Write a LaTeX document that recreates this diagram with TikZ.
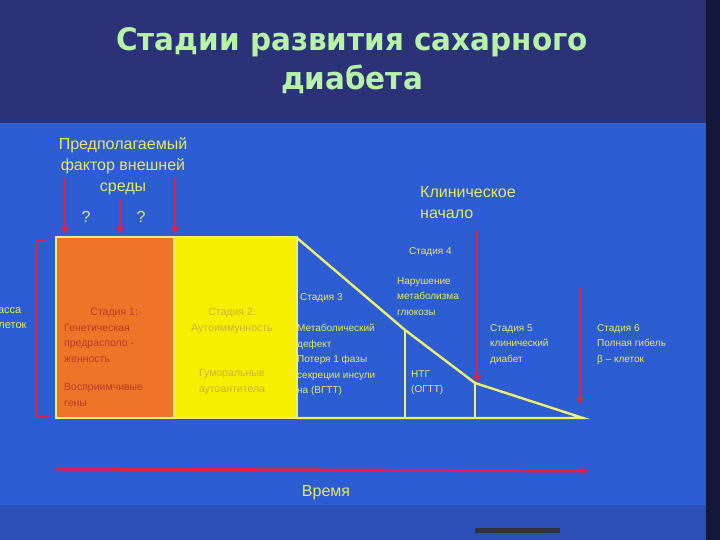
\documentclass[tikz,border=0pt]{standalone}
\usepackage{fontspec}
\setmainfont{Liberation Sans}
\newfontfamily\titlefont{DejaVu Sans}
\usetikzlibrary{arrows.meta}
\definecolor{navy}{HTML}{2C3277}
\definecolor{slideblue}{HTML}{2C5DD2}
\definecolor{darkedge}{HTML}{14163A}
\definecolor{lowblue}{HTML}{2A4FB8}
\definecolor{orangefill}{HTML}{EE7428}
\definecolor{orangetext}{HTML}{B83C22}
\definecolor{yellowfill}{HTML}{F6F000}
\definecolor{yellowtext}{HTML}{C6B43A}
\definecolor{paleyellow}{HTML}{EEF070}
\definecolor{labelyellow}{HTML}{E8EC5A}
\definecolor{titlegreen}{HTML}{B6F2A8}
\definecolor{arrowred}{HTML}{E0204A}
\tikzset{
  redarrow/.style={draw=arrowred, line width=2.6pt, -{Triangle[length=7pt,width=8pt]}},
  chartline/.style={draw=paleyellow, line width=2.4pt},
  lbl/.style={text=labelyellow, font=\fontsize{16}{21}\selectfont, inner sep=0pt, align=left},
  small/.style={text=labelyellow, font=\fontsize{10}{15.5}\selectfont, inner sep=0pt, align=left},
  stage1/.style={text=orangetext, font=\fontsize{10.5}{15.5}\selectfont, inner sep=0pt, align=left},
  stage2/.style={text=yellowtext, font=\fontsize{10.5}{15.5}\selectfont, inner sep=0pt, align=center},
  titletext/.style={text=titlegreen, font=\titlefont\bfseries\fontsize{31}{36}\selectfont, inner sep=0pt, xscale=0.95},
}
\begin{document}
\begin{tikzpicture}[x=1pt,y=-1pt]
\useasboundingbox (0,0) rectangle (720,540);
\clip (0,0) rectangle (720,540);
% backgrounds
\fill[navy] (0,0) rectangle (720,123);
\fill[slideblue] (0,123) rectangle (720,505);
\fill[lowblue] (0,505) rectangle (720,540);
\fill[darkedge] (706,0) rectangle (720,540);
\fill[black!80] (475,528) rectangle (560,533);
% title
\node[titletext] (title1) at (352,42) {Стадии развития сахарного};
\node[titletext] (title2) at (352,79) {диабета};
% chart areas
\fill[orangefill] (57,238) rectangle (174,418);
\fill[yellowfill] (174,238) rectangle (297,418);
\draw[chartline] (56,237) rectangle (297,418);
\draw[chartline] (174,238) -- (174,418);
\coordinate (p0) at (297,238);
\coordinate (p1) at (405,330);
\coordinate (p2) at (475,383);
\coordinate (p3) at (583,418);
\draw[chartline] (p0) -- (p1) -- (p2) -- (p3) -- (297,418);
\draw[chartline] (p1) -- (405,418);
\draw[chartline] (p2) -- (475,418);
% environmental factor
\node[lbl, align=center] (env) at (123,166) {Предполагаемый\\фактор внешней\\среды};
\coordinate (a1s) at (65,178); \coordinate (a1e) at (65,234);
\coordinate (a2s) at (120,199); \coordinate (a2e) at (120,234);
\coordinate (a3s) at (175,178); \coordinate (a3e) at (175,234);
\draw[redarrow] (a1s) -- (a1e);
\draw[redarrow] (a2s) -- (a2e);
\draw[redarrow] (a3s) -- (a3e);
\node[lbl] (q1) at (86,217) {?};
\node[lbl] (q2) at (141,217) {?};
% clinical onset
\node[lbl, anchor=west] (clin) at (420,203) {Клиническое\\начало};
\coordinate (c1s) at (477,230); \coordinate (c1e) at (477,382);
\draw[redarrow] (c1s) -- (c1e);
\coordinate (c2s) at (580,288); \coordinate (c2e) at (580,404);
\draw[redarrow] (c2s) -- (c2e);
% left bracket and cut label
\coordinate (b1) at (46,241); \coordinate (b2) at (36,241);
\coordinate (b3) at (36,417); \coordinate (b4) at (50,417);
\draw[arrowred, line width=2pt] (b1) -- (b2) -- (b3) -- (b4);
\node[small, font=\fontsize{11}{15}\selectfont, align=center] (mass) at (5,318) {Масса\\β-клеток};
% stage texts
\node[stage1, anchor=north west] (s1) at (64,308) {\makebox[100pt][c]{Стадия 1:}\\Генетическая\\предрасполо -\\женность\\[13pt]Восприимчивые\\гены};
\node[stage2, anchor=north] (s2) at (232,308) {Стадия 2:\\Аутоиммунность\\[30pt]Гуморальные\\аутоантитела};
\node[small, anchor=west] (s3) at (300,298) {Стадия 3};
\node[small, anchor=north west] (s3b) at (297,324) {Метаболический\\дефект\\Потеря 1 фазы\\секреции инсули\\на (ВГТТ)};
\node[small, anchor=west] (s4) at (409,252) {Стадия 4};
\node[small, anchor=north west] (s4b) at (397,277) {Нарушение\\метаболизма\\глюкозы};
\node[small, anchor=north west] (ntg) at (411,370) {НТГ\\(ОГТТ)};
\node[small, anchor=north west] (s5) at (490,324) {Стадия 5\\клинический\\диабет};
\node[small, anchor=north west] (s6) at (597,324) {Стадия 6\\Полная гибель\\β – клеток};
% time axis
\coordinate (t0) at (55,469); \coordinate (t1) at (588,471);
\draw[redarrow, line width=3pt] (t0) -- (t1);
\node[lbl] (time) at (326,493) {Время};
\end{tikzpicture}
\end{document}
